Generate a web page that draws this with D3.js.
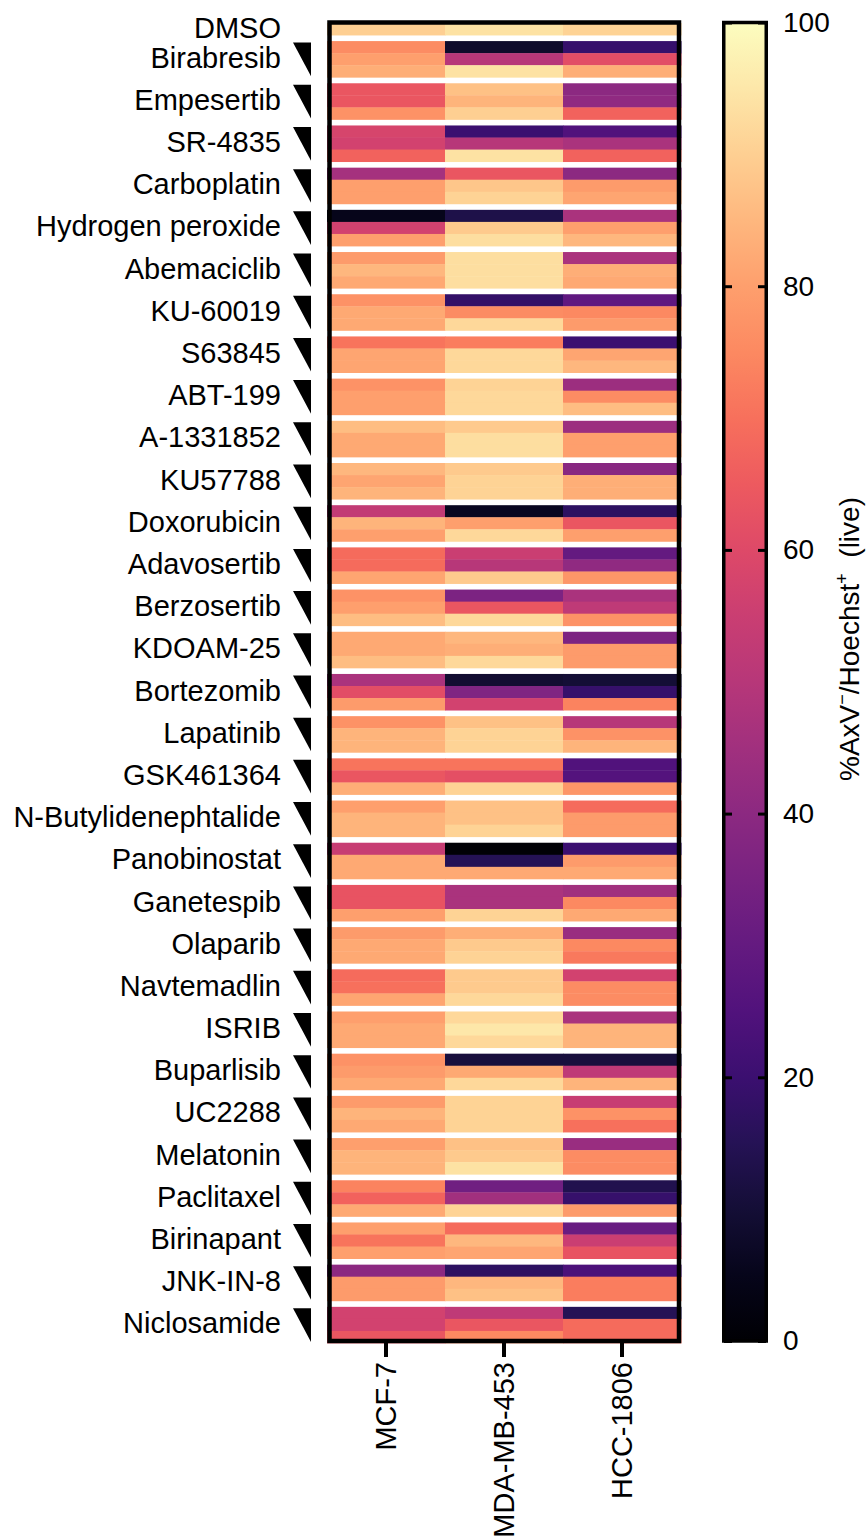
<!DOCTYPE html>
<html>
<head>
<meta charset="utf-8">
<script src="https://cdn.jsdelivr.net/npm/d3@7"></script>
<style>
  body { margin: 0; background: #fff; }
  svg { display: block; font-family: "Liberation Sans", Arial, Helvetica, sans-serif; }
</style>
</head>
<body>
<script>
// cell lines (columns)
const cellLines = ['MCF-7', 'MDA-MB-453', 'HCC-1806'];

// vehicle control, one row
const dmso = [90, 94, 91];

// drugs, each with three concentrations (high -> low)
const drugs = ['Birabresib', 'Empesertib', 'SR-4835', 'Carboplatin', 'Hydrogen peroxide',
  'Abemaciclib', 'KU-60019', 'S63845', 'ABT-199', 'A-1331852', 'KU57788', 'Doxorubicin',
  'Adavosertib', 'Berzosertib', 'KDOAM-25', 'Bortezomib', 'Lapatinib', 'GSK461364',
  'N-Butylidenephtalide', 'Panobinostat', 'Ganetespib', 'Olaparib', 'Navtemadlin', 'ISRIB',
  'Buparlisib', 'UC2288', 'Melatonin', 'Paclitaxel', 'Birinapant', 'JNK-IN-8', 'Niclosamide'];

// % live cells, per drug: [row1, row2, row3], each row [MCF-7, MDA-MB-453, HCC-1806]
const live = [
  [[76, 8, 19], [80, 50, 61], [83, 94, 83]],
  [[64, 87, 40], [64, 84, 41], [77, 90, 67]],
  [[58, 20, 25], [57, 50, 47], [67, 94, 67]],
  [[46, 64, 40], [80, 88, 79], [80, 91, 81]],
  [[5, 13, 47], [57, 89, 80], [80, 93, 85]],
  [[79, 93, 47], [85, 93, 83], [82, 93, 82]],
  [[77, 18, 29], [82, 76, 75], [82, 92, 79]],
  [[71, 73, 20], [81, 92, 81], [81, 92, 85]],
  [[77, 91, 44], [80, 92, 76], [80, 92, 86]],
  [[86, 89, 44], [82, 93, 80], [82, 93, 80]],
  [[85, 89, 39], [81, 91, 83], [84, 91, 83]],
  [[53, 6, 17], [84, 80, 64], [80, 92, 80]],
  [[69, 55, 30], [69, 50, 41], [81, 89, 78]],
  [[77, 36, 47], [80, 64, 52], [86, 92, 77]],
  [[82, 85, 36], [82, 83, 79], [86, 92, 79]],
  [[47, 9, 10], [61, 37, 19], [79, 57, 74]],
  [[77, 87, 50], [84, 91, 77], [84, 91, 84]],
  [[71, 71, 25], [64, 62, 26], [83, 91, 78]],
  [[80, 87, 69], [84, 87, 79], [84, 91, 79]],
  [[54, 1, 20], [82, 15, 79], [82, 82, 82]],
  [[63, 47, 45], [63, 47, 75], [80, 91, 82]],
  [[79, 83, 43], [82, 89, 75], [82, 91, 72]],
  [[69, 89, 57], [70, 89, 76], [81, 92, 76]],
  [[80, 92, 47], [82, 95, 84], [82, 92, 84]],
  [[77, 11, 11], [79, 82, 52], [82, 92, 84]],
  [[79, 91, 54], [84, 91, 77], [82, 91, 70]],
  [[80, 87, 43], [84, 89, 76], [84, 94, 76]],
  [[74, 33, 14], [67, 45, 19], [82, 91, 79]],
  [[80, 69, 31], [71, 85, 55], [80, 81, 63]],
  [[40, 17, 24], [79, 85, 73], [79, 87, 73]],
  [[57, 52, 15], [57, 64, 69], [64, 75, 69]]
];

const cbTicks = [0, 20, 40, 60, 80, 100];

const W = 866, H = 1539;
const svg = d3.select('body').append('svg')
  .attr('width', W)
  .attr('height', H);

// build rows: DMSO, then each drug (3 rows) separated by half-row spacers
const rows = [];
let u = 0;
rows.push({ group: 'DMSO', start: u, vals: dmso });
u += 1;
const blocks = [{ name: 'DMSO', start: 0, end: 1 }];
drugs.forEach((name, i) => {
  u += 0.5;
  const s = u;
  live[i].forEach(v => { rows.push({ group: name, start: u, vals: v }); u += 1; });
  blocks.push({ name, start: s, end: u, tri: true });
});
const totalUnits = u;

const x = d3.scaleBand().domain(cellLines).range([327, 681]);
const y = d3.scaleLinear().domain([0, totalUnits]).range([23, 1343]);
const color = d3.scaleSequential(d3.interpolateMagma).domain([0, 100]);

// cells
const cells = [];
rows.forEach(r => r.vals.forEach((v, j) => cells.push({ col: cellLines[j], start: r.start, v })));
svg.append('g').selectAll('rect')
  .data(cells)
  .enter().append('rect')
  .attr('x', d => x(d.col))
  .attr('y', d => y(d.start))
  .attr('width', x.bandwidth() + 0.5)
  .attr('height', y(1) - y(0) + 0.4)
  .attr('fill', d => color(d.v));

// frame
svg.append('rect')
  .attr('x', 329.5).attr('y', 22.5)
  .attr('width', 349.5).attr('height', 1318.5)
  .attr('fill', 'none').attr('stroke', '#000').attr('stroke-width', 4.5);

// row group labels
svg.append('g').selectAll('text')
  .data(blocks)
  .enter().append('text')
  .attr('x', 281)
  .attr('y', d => y((d.start + d.end) / 2) - 1.5)
  .attr('text-anchor', 'end')
  .attr('dominant-baseline', 'central')
  .attr('font-size', 29)
  .text(d => d.name);

// concentration wedges
svg.append('g').selectAll('path')
  .data(blocks.filter(d => d.tri))
  .enter().append('path')
  .attr('d', d => {
    const t = y(d.start) + 1.5, b = y(d.end) - 1;
    return `M293,${t}L311,${t}L311,${b}Z`;
  })
  .attr('fill', '#000');

// x axis
const xAxis = svg.append('g')
  .attr('transform', 'translate(0,1343)')
  .call(d3.axisBottom(x).tickSize(14).tickSizeOuter(0));
xAxis.select('.domain').remove();
xAxis.selectAll('line').attr('stroke-width', 4);
xAxis.selectAll('text')
  .attr('font-size', 29)
  .attr('font-family', null)
  .attr('fill', '#000')
  .attr('transform', 'rotate(-90)')
  .attr('text-anchor', 'end')
  .attr('x', -19)
  .attr('y', 0)
  .attr('dy', '0.36em');

// colour bar
const cb = d3.scaleLinear().domain([0, 100]).range([1341, 22.5]);
const defs = svg.append('defs');
const grad = defs.append('linearGradient')
  .attr('id', 'cbgrad')
  .attr('x1', 0).attr('y1', 1).attr('x2', 0).attr('y2', 0);
d3.range(0, 1.0001, 0.05).forEach(t => {
  grad.append('stop').attr('offset', t).attr('stop-color', d3.interpolateMagma(t));
});
svg.append('rect')
  .attr('x', 723.75).attr('y', 22.5)
  .attr('width', 42.5).attr('height', 1318.5)
  .attr('fill', 'url(#cbgrad)')
  .attr('stroke', '#000').attr('stroke-width', 3.5);

const cbRight = svg.append('g')
  .attr('transform', 'translate(766,0)')
  .call(d3.axisRight(cb).tickValues(cbTicks).tickSize(-8).tickPadding(17).tickSizeOuter(0));
cbRight.select('.domain').remove();
cbRight.selectAll('line').attr('stroke-width', 3);
cbRight.selectAll('text').attr('font-size', 28).attr('font-family', null).attr('fill', '#000');

const cbLeft = svg.append('g')
  .attr('transform', 'translate(724,0)')
  .call(d3.axisLeft(cb).tickValues(cbTicks).tickSize(-8).tickFormat('').tickSizeOuter(0));
cbLeft.select('.domain').remove();
cbLeft.selectAll('line').attr('stroke-width', 3);

// colour bar title
const title = svg.append('text')
  .attr('transform', 'translate(859,497) rotate(-90)')
  .attr('text-anchor', 'end')
  .attr('font-size', 28);
title.append('tspan').text('%AxV');
title.append('tspan').attr('font-size', 18).attr('dy', -11).text('−');
title.append('tspan').attr('dy', 11).text('/Hoechst');
title.append('tspan').attr('font-size', 18).attr('dy', -11).text('+');
title.append('tspan').attr('dy', 11).text('\u00a0\u00a0(live)');
</script>
</body>
</html>
